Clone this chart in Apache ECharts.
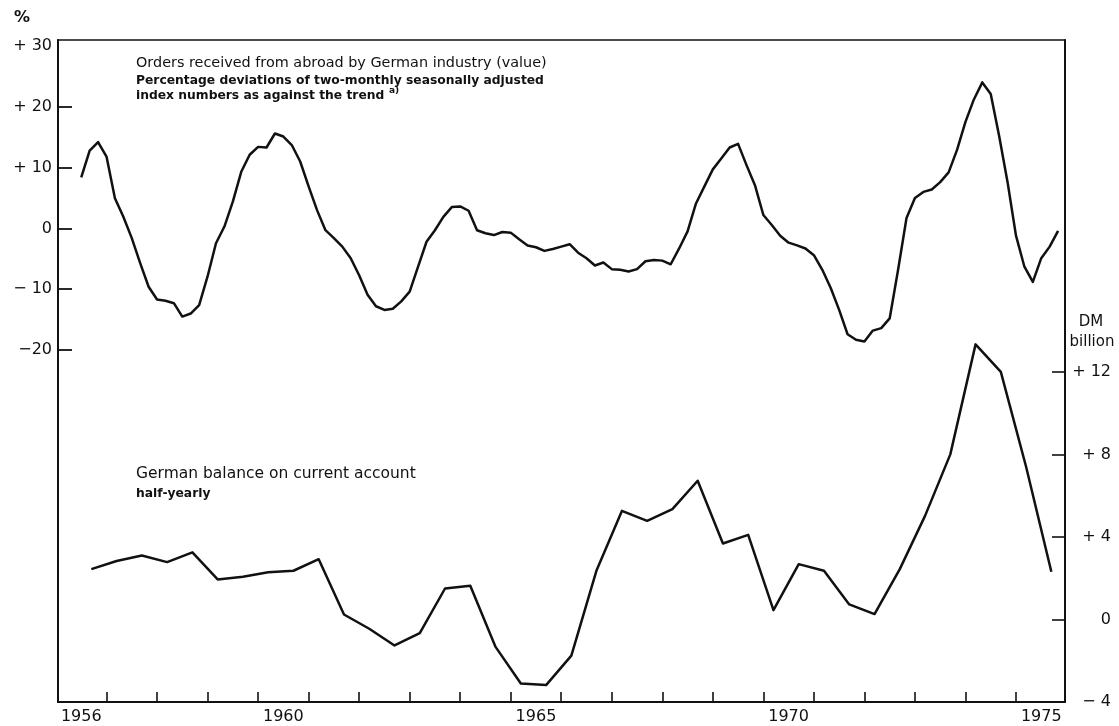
<!DOCTYPE html>
<html>
<head>
<meta charset="utf-8">
<script src="https://cdn.jsdelivr.net/npm/echarts@6/dist/echarts.min.js"></script>
<style>
  html, body { margin: 0; padding: 0; background: #fff; }
  #chart { width: 1119px; height: 726px; }
</style>
</head>
<body>
<div id="chart"></div>
<script>
// Orders received from abroad: % deviation from trend, two-monthly, from mid-1956
const orderStart = 1956.5;
const orderStep = 1 / 6;
const orderValues = [
  8.4, 12.8, 14.2, 11.8, 4.95, 1.9, -1.6, -5.7, -9.6, -11.7,
  -11.9, -12.3, -14.5, -14.0, -12.6, -7.9, -2.45, 0.3, 4.4, 9.3,
  12.1, 13.4, 13.3, 15.6, 15.1, 13.7, 11.0, 6.9, 3.0, -0.3,
  -1.6, -3.0, -4.9, -7.7, -10.9, -12.8, -13.4, -13.2, -12.0, -10.4,
  -6.3, -2.2, -0.3, 1.9, 3.5, 3.6, 2.9, -0.3, -0.8, -1.1,
  -0.6, -0.7, -1.8, -2.8, -3.1, -3.7, -3.4, -3.0, -2.6, -4.0,
  -4.9, -6.1, -5.6, -6.7, -6.8, -7.1, -6.7, -5.4, -5.2, -5.3,
  -5.9, -3.3, -0.5, 4.1, 6.9, 9.7, 11.5, 13.3, 13.9, 10.4,
  7.1, 2.2, 0.56, -1.2, -2.35, -2.8, -3.3, -4.4, -6.8, -9.8,
  -13.4, -17.4, -18.3, -18.6, -16.8, -16.4, -14.8, -6.8, 1.7, 5.0,
  6.0, 6.4, 7.6, 9.2, 12.9, 17.5, 21.2, 24.0, 22.1, 15.2,
  7.6, -1.2, -6.3, -8.8, -4.9, -3.0, -0.4
];

// German balance on current account, DM billion, half-yearly
const balanceStart = 1956.7;
const balanceStep = 0.5;
const balanceValues = [
  2.44, 2.83, 3.10, 2.78, 3.25, 1.94, 2.07, 2.29, 2.36, 2.92,
  0.24, -0.45, -1.26, -0.66, 1.50, 1.63, -1.33, -3.10, -3.18, -1.75,
  2.39, 5.26, 4.78, 5.35, 6.72, 3.68, 4.10, 0.45, 2.68, 2.36,
  0.73, 0.26, 2.44, 5.02, 8.0, 13.33, 12.0, 7.4, 2.31
];

// Axis ticks and labels
const yearLabels = [1956, 1960, 1965, 1970, 1975];
const yearTicks = [1957, 1958, 1959, 1960, 1961, 1962, 1963, 1964, 1965, 1966,
                   1967, 1968, 1969, 1970, 1971, 1972, 1973, 1974, 1975];
const pctLabelValues = [-20, -10, 0, 10, 20, 30];
const pctLabelText = { '-20': '\u221220', '-10': '\u2212 10', '0': '0', '10': '+ 10', '20': '+ 20', '30': '+ 30' };
const pctTickValues = [-20, -10, 0, 10, 20];
const dmLabelValues = [-4, 0, 4, 8, 12];
const dmLabelText = { '-4': '\u2212 4', '0': '0', '4': '+ 4', '8': '+ 8', '12': '+ 12' };
const dmTickValues = [0, 4, 8, 12];

const orderData = orderValues.map((v, i) => [orderStart + i * orderStep, v]);
const balanceData = balanceValues.map((v, i) => [balanceStart + i * balanceStep, v]);

const FONT = 'DejaVu Sans';
const INK = '#111';

const chart = echarts.init(document.getElementById('chart'), null, { renderer: 'canvas' });

chart.setOption({
  backgroundColor: '#fff',
  animation: false,
  grid: {
    left: 58, right: 54, top: 40, bottom: 24,
    show: true, borderColor: INK, borderWidth: 1.6, backgroundColor: 'transparent'
  },
  xAxis: {
    type: 'value',
    min: 1956.04, max: 1975.97,
    axisLine: { show: true, onZero: false, lineStyle: { color: INK, width: 2 } },
    axisTick: { show: true, inside: true, length: 10, customValues: yearTicks, lineStyle: { color: INK, width: 1.6 } },
    axisLabel: {
      customValues: yearLabels.map(y => y + 0.5),
      formatter: v => String(Math.floor(v)),
      margin: 7, color: INK, fontFamily: FONT, fontSize: 16
    },
    splitLine: { show: false }
  },
  yAxis: [
    {
      type: 'value', position: 'left',
      min: -77.86, max: 30.97,
      axisLine: { show: true, onZero: false, lineStyle: { color: INK, width: 2 } },
      axisTick: { show: true, inside: true, length: 14, customValues: pctTickValues, lineStyle: { color: INK, width: 1.8 } },
      axisLabel: {
        customValues: pctLabelValues,
        formatter: v => pctLabelText[String(Math.round(v))],
        margin: 6, color: INK, fontFamily: FONT, fontSize: 16
      },
      splitLine: { show: false }
    },
    {
      type: 'value', position: 'right',
      min: -4, max: 28.08,
      axisLine: { show: true, onZero: false, lineStyle: { color: INK, width: 2 } },
      axisTick: { show: true, inside: true, length: 13, customValues: dmTickValues, lineStyle: { color: INK, width: 1.6 } },
      axisLabel: {
        customValues: dmLabelValues,
        formatter: v => dmLabelText[String(Math.round(v))],
        align: 'right', margin: 46, color: INK, fontFamily: FONT, fontSize: 16
      },
      splitLine: { show: false }
    }
  ],
  series: [
    {
      name: 'Orders received from abroad',
      type: 'line', yAxisIndex: 0, data: orderData,
      showSymbol: false, smooth: false,
      lineStyle: { color: INK, width: 2.5, join: 'round' }
    },
    {
      name: 'Balance on current account',
      type: 'line', yAxisIndex: 1, data: balanceData,
      showSymbol: false, smooth: false,
      lineStyle: { color: INK, width: 2.5, join: 'round' }
    }
  ],
  graphic: [
    { type: 'text', x: 22, y: 18, style: { text: '%', fill: INK, font: 'bold 16px "DejaVu Sans"', textAlign: 'center', textVerticalAlign: 'middle' } },
    { type: 'text', x: 1091, y: 322, style: { text: 'DM', fill: INK, font: '15px "DejaVu Sans"', textAlign: 'center', textVerticalAlign: 'middle' } },
    { type: 'text', x: 1092, y: 342, style: { text: 'billion', fill: INK, font: '15px "DejaVu Sans"', textAlign: 'center', textVerticalAlign: 'middle' } },
    { type: 'text', x: 136, y: 63, style: { text: 'Orders received from abroad by German industry (value)', fill: INK, font: '14.4px "DejaVu Sans"', textAlign: 'left', textVerticalAlign: 'middle' } },
    { type: 'text', x: 136, y: 81, style: { text: 'Percentage deviations of two-monthly seasonally adjusted', fill: INK, font: 'bold 12.3px "DejaVu Sans"', textAlign: 'left', textVerticalAlign: 'middle' } },
    { type: 'text', x: 136, y: 96, style: { text: 'index numbers as against the trend', fill: INK, font: 'bold 12.3px "DejaVu Sans"', textAlign: 'left', textVerticalAlign: 'middle' } },
    { type: 'text', x: 389, y: 91, style: { text: 'a)', fill: INK, font: 'bold 9px "DejaVu Sans"', textAlign: 'left', textVerticalAlign: 'middle' } },
    { type: 'text', x: 136, y: 474, style: { text: 'German balance on current account', fill: INK, font: '15.5px "DejaVu Sans"', textAlign: 'left', textVerticalAlign: 'middle' } },
    { type: 'text', x: 136, y: 494, style: { text: 'half-yearly', fill: INK, font: 'bold 12.3px "DejaVu Sans"', textAlign: 'left', textVerticalAlign: 'middle' } }
  ]
});
</script>
</body>
</html>
